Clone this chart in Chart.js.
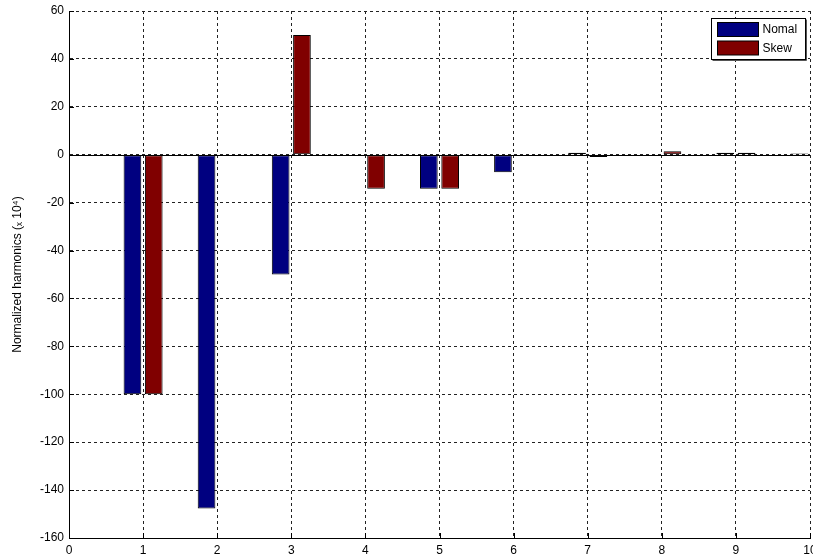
<!DOCTYPE html>
<html>
<head>
<meta charset="utf-8">
<script src="https://cdn.jsdelivr.net/npm/chart.js@4/dist/chart.umd.min.js"></script>
<style>
  html, body { margin: 0; padding: 0; background: #fff; overflow: hidden; }
  #wrap { position: relative; width: 840px; height: 557px; }
</style>
</head>
<body>
<div id="wrap"><canvas id="c"></canvas></div>
<script>
// Harmonic order on the x axis, normalized harmonic amplitudes (units of 1e-4)
const harmonicOrders = [1, 2, 3, 4, 5, 6, 7, 8, 9, 10];
const normalValues   = [-100, -147.7, -50, 0, -14.2, -7.3, 0.8, 0, 0.8, 0.5];
const skewValues     = [-100, 0, 50, -14.2, -14.2, 0, -1.0, 1.4, 0.8, 0];
const seriesNames    = ['Nomal', 'Skew'];
const seriesColors   = ['#000080', '#800000'];
const yAxisTitle     = 'Normalized harmonics (\u2093 10\u2074)';

const FONT = 'Arial, "Liberation Sans", sans-serif';

const pairs = vals => harmonicOrders.map((x, i) => ({ x: x, y: vals[i] }));

// MATLAB-style inward tick marks and solid bar baseline
const axisDecor = {
  id: 'axisDecor',
  afterDatasetsDraw(chart) {
    const { ctx, chartArea: a, scales: { x, y } } = chart;
    ctx.save();
    ctx.strokeStyle = '#000';
    ctx.lineWidth = 1;
    ctx.setLineDash([]);
    // baseline at zero
    const y0 = Math.round(y.getPixelForValue(0)) + 0.5;
    ctx.beginPath();
    ctx.moveTo(a.left, y0);
    ctx.lineTo(a.right, y0);
    ctx.stroke();
    // inward ticks
    ctx.beginPath();
    y.ticks.forEach(t => {
      const py = Math.round(y.getPixelForValue(t.value)) + 0.5;
      ctx.moveTo(a.left, py); ctx.lineTo(a.left + 5, py);
    });
    x.ticks.forEach(t => {
      const px = Math.round(x.getPixelForValue(t.value)) + 0.5;
      ctx.moveTo(px, a.bottom); ctx.lineTo(px, a.bottom - 5);
    });
    ctx.stroke();
    ctx.restore();
  }
};

// Boxed legend inside the top-right corner of the plot
const boxLegend = {
  id: 'boxLegend',
  afterDraw(chart) {
    const { ctx, chartArea: a } = chart;
    const w = 94, h = 41;
    const left = Math.round(a.right - 5 - w) + 0.5;
    const top = Math.round(a.top + 7) + 0.5;
    ctx.save();
    ctx.setLineDash([]);
    ctx.fillStyle = '#fff';
    ctx.fillRect(left, top, w, h);
    ctx.strokeStyle = '#000';
    ctx.lineWidth = 1;
    ctx.strokeRect(left, top, w, h);
    // slight shadow on right and bottom edges
    ctx.strokeStyle = '#555';
    ctx.beginPath();
    ctx.moveTo(left + w + 1, top + 1); ctx.lineTo(left + w + 1, top + h + 1);
    ctx.lineTo(left + 1, top + h + 1);
    ctx.stroke();
    ctx.font = '12px ' + FONT;
    ctx.textBaseline = 'middle';
    chart.data.datasets.forEach((ds, i) => {
      const sy = top + 4 + i * 18.5;
      ctx.fillStyle = ds.backgroundColor;
      ctx.fillRect(left + 6, sy, 41, 14);
      ctx.strokeStyle = '#000';
      ctx.strokeRect(left + 6, sy, 41, 14);
      ctx.fillStyle = '#000';
      ctx.fillText(ds.label, left + 51, sy + 7.5);
    });
    ctx.restore();
  }
};

new Chart(document.getElementById('c'), {
  type: 'bar',
  data: {
    datasets: [
      { label: seriesNames[0], data: pairs(normalValues), backgroundColor: seriesColors[0] },
      { label: seriesNames[1], data: pairs(skewValues), backgroundColor: seriesColors[1] }
    ]
  },
  options: {
    responsive: true,
    maintainAspectRatio: false,
    animation: false,
    events: [],
    layout: { padding: { top: 11, right: 30, bottom: 0, left: 0 } },
    datasets: {
      bar: {
        borderColor: '#000',
        borderWidth: 1,
        borderSkipped: false,
        categoryPercentage: 0.575,
        barPercentage: 0.83,
        clip: 0
      }
    },
    plugins: { legend: { display: false }, tooltip: { enabled: false } },
    scales: {
      x: {
        type: 'linear',
        min: 0, max: 10,
        offset: false,
        grid: { color: '#222', drawTicks: false, offset: false },
        border: { display: true, color: '#000', width: 1, dash: [3, 3] },
        ticks: { stepSize: 1, padding: 5, color: '#000', font: { family: FONT, size: 12 } },
        afterFit(s) { s.height = 19; s.paddingLeft = 0; s.paddingRight = 0; }
      },
      y: {
        min: -160, max: 60,
        grid: { color: '#222', drawTicks: false },
        border: { display: true, color: '#000', width: 1, dash: [3, 3] },
        ticks: { stepSize: 20, padding: 5, color: '#000', font: { family: FONT, size: 12 } },
        title: {
          display: true, text: yAxisTitle, color: '#000',
          font: { family: FONT, size: 12 }, padding: { top: 10, bottom: 0 }
        },
        afterFit(s) { s.width = 69; s.paddingTop = 0; s.paddingBottom = 0; }
      }
    }
  },
  plugins: [axisDecor, boxLegend]
});
</script>
</body>
</html>
